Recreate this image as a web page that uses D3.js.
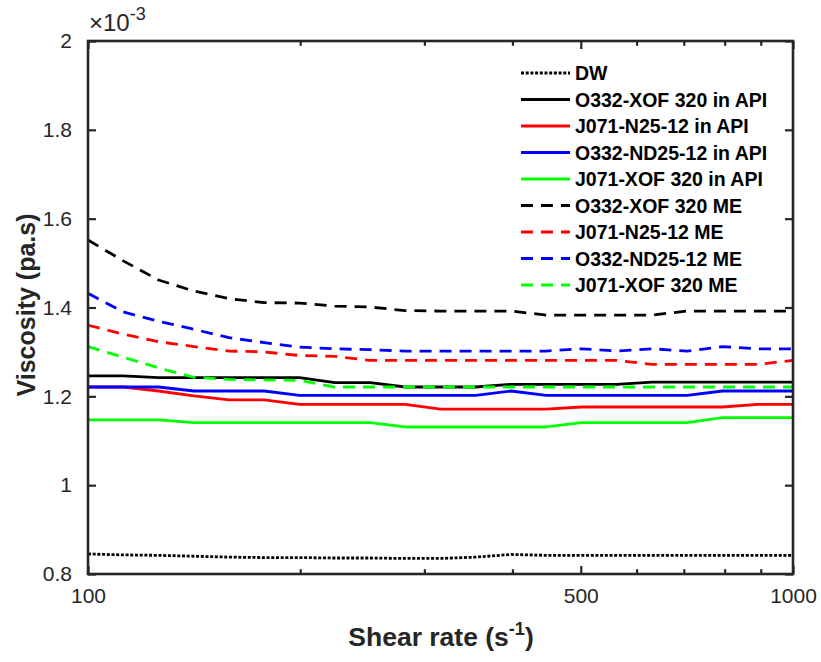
<!DOCTYPE html>
<html>
<head>
<meta charset="utf-8">
<script src="https://cdn.jsdelivr.net/npm/d3@7"></script>
<style>
  html, body { margin: 0; padding: 0; background: #fff; }
  svg { display: block; }
  text { font-family: "Liberation Sans", Arial, Helvetica, sans-serif; }
</style>
</head>
<body>
<svg id="chart" width="821" height="662"></svg>
<script>
// Shear rate (s^-1)
const shearRate = [100, 112.2, 125.9, 141.3, 158.5, 177.8, 199.5, 223.9, 251.2, 281.8, 316.2,
                   354.8, 398.1, 446.7, 501.2, 562.3, 631.0, 707.9, 794.3, 891.3, 1000];

// Viscosity (x10^-3 pa.s)
const dw          = [0.845,0.843,0.842,0.840,0.838,0.837,0.837,0.836,0.836,0.835,0.835,0.838,0.844,0.842,0.842,0.842,0.842,0.842,0.842,0.842,0.842];
const o332XofApi  = [1.246,1.246,1.242,1.242,1.242,1.242,1.242,1.231,1.231,1.221,1.221,1.221,1.227,1.227,1.227,1.227,1.232,1.232,1.232,1.232,1.232];
const j071N25Api  = [1.221,1.221,1.212,1.201,1.192,1.192,1.182,1.182,1.182,1.182,1.171,1.171,1.171,1.171,1.176,1.176,1.176,1.176,1.176,1.182,1.182];
const o332ND25Api = [1.221,1.221,1.221,1.212,1.212,1.212,1.202,1.202,1.202,1.202,1.202,1.202,1.212,1.202,1.202,1.202,1.202,1.202,1.212,1.212,1.212];
const j071XofApi  = [1.147,1.147,1.147,1.141,1.141,1.141,1.141,1.141,1.141,1.131,1.131,1.131,1.131,1.131,1.141,1.141,1.141,1.141,1.152,1.152,1.152];
const o332XofME   = [1.552,1.505,1.462,1.437,1.420,1.411,1.410,1.403,1.401,1.393,1.392,1.392,1.392,1.383,1.383,1.383,1.383,1.392,1.392,1.392,1.392];
const j071N25ME   = [1.360,1.340,1.323,1.312,1.302,1.300,1.292,1.290,1.281,1.281,1.281,1.281,1.281,1.281,1.281,1.281,1.272,1.272,1.272,1.272,1.281];
const o332ND25ME  = [1.432,1.390,1.369,1.351,1.332,1.321,1.311,1.307,1.305,1.302,1.302,1.302,1.302,1.302,1.307,1.302,1.307,1.302,1.312,1.307,1.307];
const j071XofME   = [1.312,1.288,1.264,1.243,1.238,1.237,1.236,1.221,1.221,1.221,1.221,1.221,1.221,1.221,1.221,1.221,1.221,1.221,1.221,1.221,1.221];

const seriesNames = ["DW", "O332-XOF 320 in API", "J071-N25-12 in API", "O332-ND25-12 in API", "J071-XOF 320 in API",
                     "O332-XOF 320 ME", "J071-N25-12 ME", "O332-ND25-12 ME", "J071-XOF 320 ME"];
const seriesValues = [dw, o332XofApi, j071N25Api, o332ND25Api, j071XofApi, o332XofME, j071N25ME, o332ND25ME, j071XofME];
const seriesColors = ["#000000", "#000000", "#ff0000", "#0000ff", "#00ff00", "#000000", "#ff0000", "#0000ff", "#00ff00"];
const seriesStyles = ["dotted", "solid", "solid", "solid", "solid", "dashed", "dashed", "dashed", "dashed"];

const yTicks = [0.8, 1, 1.2, 1.4, 1.6, 1.8, 2];
const yTickLabels = ["0.8", "1", "1.2", "1.4", "1.6", "1.8", "2"];
const xMajorTicks = [100, 500, 1000];
const xMinorTicks = [200, 300, 400, 600, 700, 800, 900];

const margin = { left: 88, right: 28, top: 41, bottom: 88 };
const W = 821, H = 662;
const x0 = margin.left, x1 = W - margin.right, y0 = H - margin.bottom, y1 = margin.top;

const svg = d3.select("#chart");
const x = d3.scaleLog().domain([100, 1000]).range([x0, x1]);
const y = d3.scaleLinear().domain([0.8, 2]).range([y0, y1]);

const axisColor = "#262626";
const dashMap = { solid: null, dashed: "12,8", dotted: "3,1.7" };

// lines
const line = d3.line().x((d, i) => x(shearRate[i])).y(d => y(d));
const plot = svg.append("g");
seriesValues.forEach((vals, s) => {
  plot.append("path")
    .datum(vals)
    .attr("d", line)
    .attr("fill", "none")
    .attr("stroke", seriesColors[s])
    .attr("stroke-width", 2.8)
    .attr("stroke-dasharray", dashMap[seriesStyles[s]])
    .attr("stroke-linejoin", "round");
});

// axes (ticks inward)
const tickLen = 8;
const gx = svg.append("g").attr("transform", `translate(0,${y0})`)
  .call(d3.axisBottom(x).tickValues(xMajorTicks).tickSizeInner(-tickLen).tickSizeOuter(0).tickPadding(14).tickFormat(d3.format("d")));
const gxMinor = svg.append("g").attr("transform", `translate(0,${y0})`)
  .call(d3.axisBottom(x).tickValues(xMinorTicks).tickSizeInner(-tickLen * 0.6).tickSizeOuter(0).tickFormat(""));
const gxTop = svg.append("g").attr("transform", `translate(0,${y1})`)
  .call(d3.axisTop(x).tickValues(xMajorTicks).tickSizeInner(-tickLen).tickSizeOuter(0).tickFormat(""));
const gxTopMinor = svg.append("g").attr("transform", `translate(0,${y1})`)
  .call(d3.axisTop(x).tickValues(xMinorTicks).tickSizeInner(-tickLen * 0.6).tickSizeOuter(0).tickFormat(""));
const gy = svg.append("g").attr("transform", `translate(${x0},0)`)
  .call(d3.axisLeft(y).tickValues(yTicks).tickSizeInner(-tickLen).tickSizeOuter(0).tickPadding(16)
    .tickFormat((d, i) => yTickLabels[i]));
const gyR = svg.append("g").attr("transform", `translate(${x1},0)`)
  .call(d3.axisRight(y).tickValues(yTicks).tickSizeInner(-tickLen).tickSizeOuter(0).tickFormat(""));

[gx, gxMinor, gxTop, gxTopMinor, gy, gyR].forEach(g => {
  g.select(".domain").remove();
  g.selectAll(".tick line").attr("stroke", axisColor).attr("stroke-width", 2.2);
  g.selectAll(".tick text").attr("fill", axisColor).style("font-size", "21px")
    .style("font-family", "'Liberation Sans', Arial, sans-serif");
});

// box
svg.append("rect").attr("x", x0).attr("y", y1).attr("width", x1 - x0).attr("height", y0 - y1)
  .attr("fill", "none").attr("stroke", axisColor).attr("stroke-width", 2.6);

// exponent
const expT = svg.append("text").attr("x", x0 + 1).attr("y", y1 - 10).attr("fill", axisColor).style("font-size", "24px");
expT.append("tspan").text("\u00d710");
expT.append("tspan").attr("dy", -11).style("font-size", "18px").text("-3");

// axis titles
const xt = svg.append("text").attr("x", 441).attr("y", 646).attr("text-anchor", "middle")
  .attr("fill", axisColor).style("font-size", "26.5px").style("font-weight", "bold");
xt.append("tspan").text("Shear rate (s");
xt.append("tspan").attr("dy", -11).style("font-size", "18px").text("-1");
xt.append("tspan").attr("dy", 11).text(")");

svg.append("text").attr("transform", `translate(35,305) rotate(-90)`)
  .attr("text-anchor", "middle").attr("fill", axisColor)
  .style("font-size", "25px").style("font-weight", "bold").text("Viscosity (pa.s)");

// legend
const lg = svg.append("g");
const lgX0 = 521, lgX1 = 570, lgY0 = 73, lgDy = 26.5;
seriesNames.forEach((name, s) => {
  const yy = lgY0 + s * lgDy;
  lg.append("line").attr("x1", lgX0).attr("x2", lgX1).attr("y1", yy).attr("y2", yy)
    .attr("stroke", seriesColors[s]).attr("stroke-width", 2.8)
    .attr("stroke-dasharray", dashMap[seriesStyles[s]]);
  lg.append("text").attr("x", lgX1 + 5).attr("y", yy).attr("dy", "0.36em")
    .attr("fill", "#000").style("font-size", "19.5px").style("font-weight", "bold").text(name);
});
</script>
</body>
</html>
